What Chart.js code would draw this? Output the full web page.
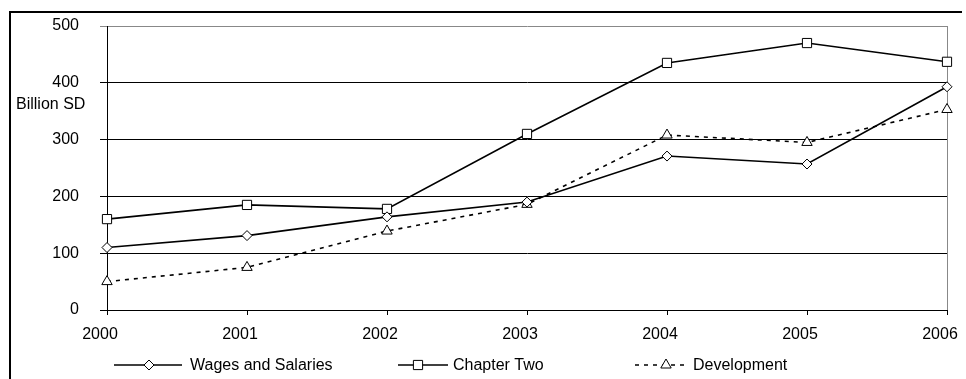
<!DOCTYPE html>
<html>
<head>
<meta charset="utf-8">
<script src="https://cdn.jsdelivr.net/npm/chart.js@4/dist/chart.umd.min.js"></script>
<style>
html,body{margin:0;padding:0;background:#fff;}
canvas{display:block;}
</style>
</head>
<body>
<canvas id="c" width="966" height="379"></canvas>
<script>
const categories = ['2000', '2001', '2002', '2003', '2004', '2005', '2006'];
const wagesAndSalaries = [110, 131, 164, 190, 271, 257, 393];
const chapterTwo = [160, 185, 178, 310, 435, 470, 437];
const development = [50, 75, 139, 186, 308, 295, 353];
const seriesNames = ['Wages and Salaries', 'Chapter Two', 'Development'];
const yTicks = [0, 100, 200, 300, 400, 500];
const yTitle = 'Billion SD';

const FONT = 'Liberation Sans, Arial, sans-serif';
const FS = 16;

const legendPos = [
  {x1: 114, x2: 182, m: 149, t: 190},
  {x1: 398, x2: 448, m: 418, t: 453},
  {x1: 635, x2: 688, m: 666, t: 693}
];

const decor = {
  id: 'decor',
  beforeDraw(chart) {
    const ctx = chart.ctx;
    ctx.save();
    ctx.fillStyle = '#fff';
    ctx.fillRect(0, 0, chart.width, chart.height);
    ctx.fillStyle = '#000';
    ctx.fillRect(9, 11, 2, chart.height - 11);
    ctx.fillRect(9, 11, 953, 2);
    ctx.restore();
  },
  beforeDatasetsDraw(chart) {
    const ctx = chart.ctx, a = chart.chartArea;
    ctx.save();
    ctx.strokeStyle = '#888';
    ctx.lineWidth = 1;
    ctx.beginPath();
    ctx.moveTo(Math.round(a.right) + 0.5, a.top);
    ctx.lineTo(Math.round(a.right) + 0.5, a.bottom);
    ctx.stroke();
    ctx.restore();
  },
  afterDraw(chart) {
    const ctx = chart.ctx;
    ctx.save();
    ctx.fillStyle = '#000';
    ctx.font = FS + 'px ' + FONT;
    ctx.textBaseline = 'middle';
    ctx.textAlign = 'left';
    ctx.fillText(yTitle, 16, 105);
    chart.data.datasets.forEach((ds, i) => {
      const p = legendPos[i];
      const y = 365;
      ctx.strokeStyle = '#000';
      ctx.lineWidth = ds.borderWidth;
      ctx.setLineDash(ds.borderDash || []);
      ctx.beginPath();
      ctx.moveTo(p.x1, y);
      ctx.lineTo(p.x2, y);
      ctx.stroke();
      ctx.setLineDash([]);
      ctx.fillStyle = '#fff';
      ctx.strokeStyle = '#000';
      ctx.lineWidth = 1;
      Chart.helpers.drawPoint(ctx, {pointStyle: ds.pointStyle, radius: ds.pointRadius, borderWidth: 1, rotation: 0}, p.m, y);
      ctx.fillStyle = '#000';
      ctx.fillText(ds.label, p.t, y + 1);
    });
    ctx.restore();
  }
};

const common = {
  borderColor: '#000',
  backgroundColor: '#fff',
  pointBackgroundColor: '#fff',
  pointBorderColor: '#000',
  pointBorderWidth: 1,
  tension: 0,
  fill: false
};

function zeroPad(s) { s.paddingLeft = 0; s.paddingRight = 0; s.paddingTop = 0; s.paddingBottom = 0; }

new Chart(document.getElementById('c'), {
  type: 'line',
  data: {
    labels: categories,
    datasets: [
      Object.assign({}, common, {label: seriesNames[0], data: wagesAndSalaries, borderWidth: 1.6, pointStyle: 'rectRot', pointRadius: 5}),
      Object.assign({}, common, {label: seriesNames[1], data: chapterTwo, borderWidth: 1.6, pointStyle: 'rect', pointRadius: 6.5}),
      Object.assign({}, common, {label: seriesNames[2], data: development, borderWidth: 1.6, borderDash: [4, 5], pointStyle: 'triangle', pointRadius: 6})
    ]
  },
  options: {
    responsive: false,
    animation: false,
    devicePixelRatio: 1,
    layout: {padding: {left: 0, top: 26, right: 19, bottom: 0}},
    plugins: {legend: {display: false}, tooltip: {enabled: false}},
    scales: {
      x: {
        type: 'category',
        offset: false,
        grid: {display: true, drawOnChartArea: false, tickLength: 5, color: '#000', lineWidth: 1},
        border: {display: true, color: '#000', width: 1},
        ticks: {color: '#000', font: {family: FONT, size: FS}, padding: 10, labelOffset: -7, maxRotation: 0, autoSkip: false},
        afterFit(s) { s.height = 69; zeroPad(s); }
      },
      y: {
        min: 0, max: 500,
        afterBuildTicks(s) { s.ticks = yTicks.map(v => ({value: v})); },
        grid: {
          display: true, tickLength: 7, lineWidth: 1,
          color: c => (c.tick && c.tick.value === 500) ? '#888' : '#000'
        },
        border: {display: true, color: '#000', width: 1},
        ticks: {color: '#000', font: {family: FONT, size: FS}, padding: 21},
        afterFit(s) { s.width = 107; zeroPad(s); }
      }
    }
  },
  plugins: [decor]
});
</script>
</body>
</html>
